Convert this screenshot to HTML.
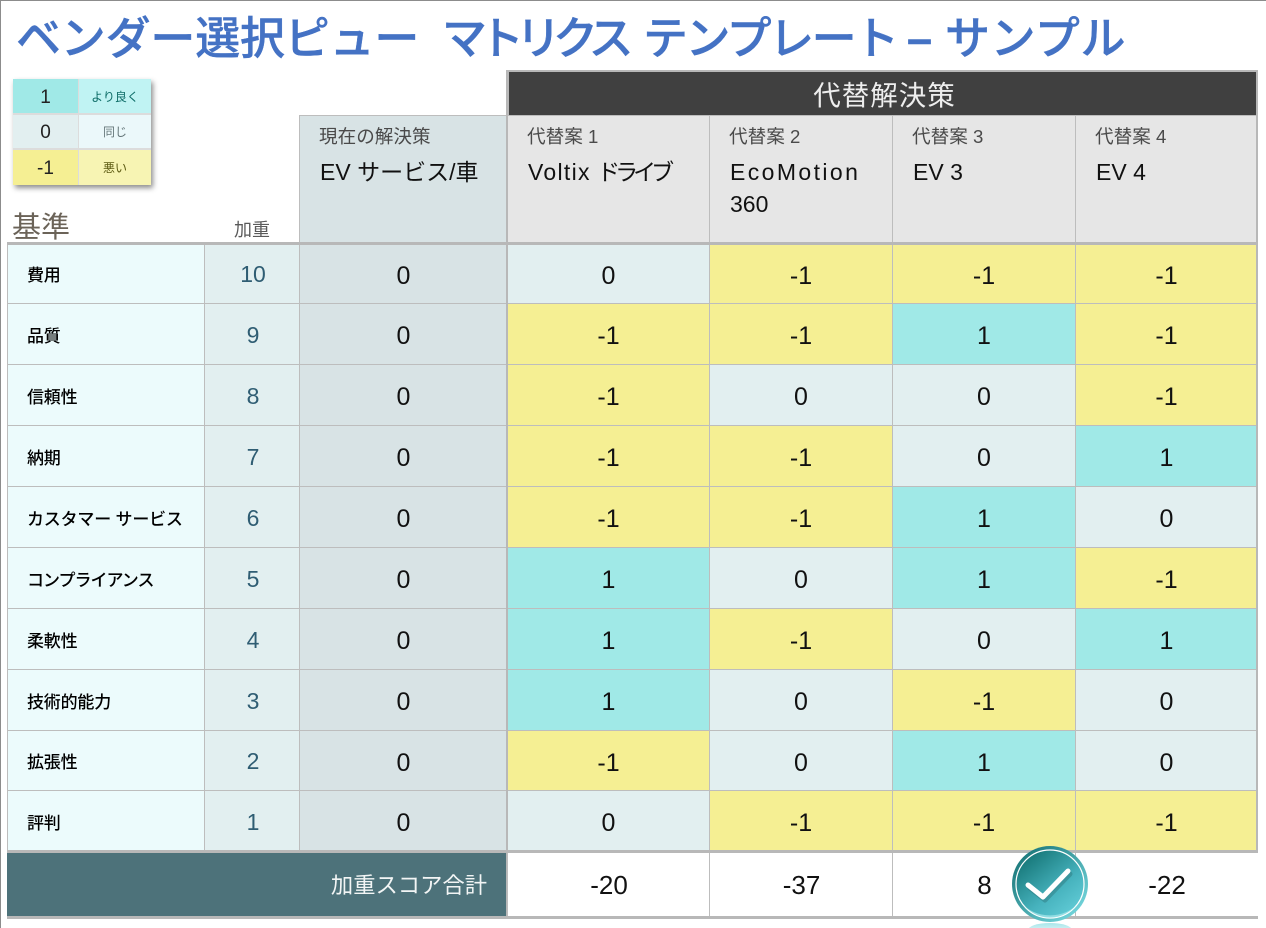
<!DOCTYPE html>
<html lang="ja">
<head>
<meta charset="utf-8">
<title>ベンダー選択ピュー マトリクス テンプレート</title>
<style>
html,body{margin:0;padding:0;background:#fff;}
body{width:1266px;height:928px;overflow:hidden;position:relative;font-family:"Liberation Sans","Noto Sans CJK JP",sans-serif;}
#stage{position:absolute;left:0;top:0;width:1266px;height:928px;overflow:hidden;}
.a{position:absolute;box-sizing:border-box;white-space:nowrap;}
.c{display:flex;align-items:center;justify-content:center;}
.t{position:absolute;top:11px;font-size:45px;line-height:56px;font-weight:500;color:#4472c4;-webkit-text-stroke:.4px #4472c4;white-space:nowrap;}
</style>
</head>
<body>
<div id="stage">
  <div class="a" style="left:0;top:0;width:1266px;height:1px;background:#8c8c8c"></div>
  <div class="a" style="left:0;top:0;width:1px;height:928px;background:#8c8c8c"></div>
  <div>
    <span class="t" style="left:16px;letter-spacing:-.2px">ベンダー選択ピュー</span>
    <span class="t" style="left:442px;letter-spacing:-8px">マトリクス</span>
    <span class="t" style="left:643px;letter-spacing:-2.5px">テンプレート</span>
    <span class="t" style="left:907px;font-weight:700">–</span>
    <span class="t" style="left:945px;letter-spacing:.6px">サンプル</span>
  </div>

  <div class="a" style="left:13px;top:79px;width:138px;height:106px;box-shadow:2px 3px 5px rgba(0,0,0,.45);background:#dcdcdc">
    <div class="a c" style="left:0;top:0;width:65px;height:34px;background:#a0e9e7;font-size:19px;color:#222;padding-top:3px">1</div>
    <div class="a c" style="left:66px;top:0;width:72px;height:34px;background:#c0f3f3;font-size:12px;color:#0e6d68">より良く</div>
    <div class="a c" style="left:0;top:36px;width:65px;height:33px;background:#e2eff0;font-size:19px;color:#222;padding-top:3px">0</div>
    <div class="a c" style="left:66px;top:36px;width:72px;height:33px;background:#ebf8fa;font-size:12px;color:#66777a">同じ</div>
    <div class="a c" style="left:0;top:71px;width:65px;height:35px;background:#f5ef93;font-size:19px;color:#222;padding-top:3px">-1</div>
    <div class="a c" style="left:66px;top:71px;width:72px;height:35px;background:#f7f4b3;font-size:12px;color:#5c5a12">悪い</div>
  </div>

  <div class="a" style="left:12px;top:209px;font-size:29px;line-height:38px;color:#6b6358">基準</div>
  <div class="a" style="left:234px;top:218px;font-size:18px;line-height:24px;color:#5a5a5a">加重</div>

  <div class="a" style="left:299px;top:115px;width:208px;height:128px;background:#d8e3e5;border:1px solid #bdbdbd;border-bottom:0"></div>
  <div class="a" style="left:319px;top:124px;font-size:18.6px;line-height:25px;color:#4a4a4a">現在の解決策</div>
  <div class="a" style="left:320px;top:157px;font-size:23px;line-height:31px;color:#111">EV サービス/車</div>

  <div class="a c" style="left:507px;top:70px;width:751px;height:46px;background:#404040;border:2px solid #b8b8b8;border-bottom:1px solid #b8b8b8;color:#eee;font-size:27.5px;padding-left:4px;padding-bottom:2px;letter-spacing:1px">代替解決策</div>
</div>

<script>
const criteria = ["費用","品質","信頼性","納期","カスタマー サービス","コンプライアンス","柔軟性","技術的能力","拡張性","評判"];
const weights = [10,9,8,7,6,5,4,3,2,1];
const currentScores = [0,0,0,0,0,0,0,0,0,0];
const alternativeLabels = ["代替案 1","代替案 2","代替案 3","代替案 4"];
const alternativeNames = [["Voltix ドライブ"],["EcoMotion","360"],["EV 3"],["EV 4"]];
const alt1Scores = [0,-1,-1,-1,-1,1,1,1,-1,0];
const alt2Scores = [-1,-1,0,-1,-1,0,-1,0,0,-1];
const alt3Scores = [-1,1,0,0,1,1,0,-1,1,-1];
const alt4Scores = [-1,-1,-1,1,0,-1,1,0,0,-1];
const totalLabel = "加重スコア合計";

const alternatives = [alt1Scores, alt2Scores, alt3Scores, alt4Scores];
const stage = document.getElementById('stage');
const colEdges = [7,204,299,507,709,892,1075,1257];
const rowEdges = [243,303,364,425,486,547,608,669,730,790,851];
const ratingFill = v => v > 0 ? '#a0e9e7' : v < 0 ? '#f5ef93' : '#e2eff0';

function box(left, top, width, height, css, text) {
  const el = document.createElement('div');
  el.className = 'a';
  el.style.cssText = `left:${left}px;top:${top}px;width:${width}px;height:${height}px;${css}`;
  if (text !== undefined) el.textContent = text;
  stage.appendChild(el);
  return el;
}

function styleName(el, text) {
  el.textContent = '';
  text.split(/([A-Za-z]{6,}|[ァ-ヶー]+)/).forEach(run => {
    if (!run) return;
    const s = document.createElement('span');
    s.textContent = run;
    if (/^[A-Za-z]{6,}$/.test(run)) s.style.letterSpacing = run.length > 6 ? '2.4px' : '1.3px';
    if (/^[ァ-ヶー]+$/.test(run)) s.style.letterSpacing = '-5px';
    el.appendChild(s);
  });
}

const line = '#bdbdbd';
const heavy = '#b8b8b8';

alternativeLabels.forEach((label, i) => {
  const x = colEdges[i + 3], w = colEdges[i + 4] - x;
  const head = box(x, 115, w + 1, 128, `background:#e6e6e6;border:1px solid ${line};border-bottom:0`);
  
  
  const lab = box(x + 20, 124, w - 20, 25, 'font-size:18.6px;line-height:25px;color:#4a4a4a', label);
  
  
  alternativeNames[i].forEach((t, k) => {
    const nm = box(x + 21, 157 + k * 32, w - 21, 31, 'font-size:23px;line-height:31px;color:#111');
    styleName(nm, t);
    
    
  });
});

criteria.forEach((name, r) => {
  const y = rowEdges[r], h = rowEdges[r + 1] - y;
  const kanaOnly = /^[ァ-ヶー]+$/.test(name);
  const cr = box(7, y, 198, h + 1, `background:#ecfbfc;border:1px solid ${line};padding-left:19px;display:flex;align-items:center;font-size:17px;font-weight:500;color:#000;letter-spacing:${kanaOnly ? '-1px' : '-.2px'}`, name);
  
  
  const wt = box(204, y, 96, h + 1, `background:#e2eff0;border:1px solid ${line};font-size:23px;color:#2f5d73;padding-top:2px;padding-left:2px`, String(weights[r]));
  wt.classList.add('c');
  
  
  const cu = box(299, y, 209, h + 1, `background:#d8e3e5;border:1px solid ${line};font-size:25px;color:#111;padding-top:5px`, String(currentScores[r]));
  cu.classList.add('c');
  
  
  alternatives.forEach((series, c) => {
    const x = colEdges[c + 3], w = colEdges[c + 4] - x;
    const v = series[r];
    const cell = box(x, y, w + 1, h + 1, `background:${ratingFill(v)};border:1px solid ${line};font-size:25px;color:#111;padding-top:5px`, String(v));
    cell.classList.add('c');
    
    
  });
});

const topRule = box(7, 242, 1251, 3, `background:${heavy}`);


const leftRule = box(506, 70, 2, 848, `background:${heavy}`);


const rightRule = box(1256, 70, 2, 848, `background:${heavy}`);



const totalBar = box(7, 852, 499, 64, 'background:#4d727a;color:#f2f5f5;font-size:22.3px;display:flex;align-items:center;justify-content:flex-end;padding-right:19px', totalLabel);



alternatives.forEach((series, c) => {
  const x = colEdges[c + 3], w = colEdges[c + 4] - x;
  const total = series.reduce((sum, v, r) => sum + v * weights[r], 0);
  const cell = box(x, 852, w + 1, 64, `background:#fff;border-left:1px solid ${line};font-size:26px;color:#111;padding-top:3px`, String(total));
  cell.classList.add('c');
  
  
});

const r1 = box(7, 850, 1251, 3, `background:${heavy}`);


const r2 = box(7, 916, 1251, 3, `background:${heavy}`);



const NS = 'http://www.w3.org/2000/svg';
const badge = document.createElementNS(NS, 'svg');


badge.setAttribute('width', '84');
badge.setAttribute('height', '90');
badge.setAttribute('viewBox', '0 0 84 90');
badge.style.cssText = 'position:absolute;left:1008px;top:842px';
badge.innerHTML = `
<defs>
<linearGradient id="rim" x1="0" y1="0" x2="1" y2="1"><stop offset="0" stop-color="#0e6a6c"/><stop offset="1" stop-color="#7fe3ea"/></linearGradient>
<linearGradient id="face" x1="0.1" y1="0" x2="0.9" y2="1"><stop offset="0" stop-color="#0f6e6e"/><stop offset="0.6" stop-color="#46b2bd"/><stop offset="1" stop-color="#66d0db"/></linearGradient>
<linearGradient id="refl" x1="0" y1="0" x2="0" y2="1"><stop offset="0" stop-color="#a8e6ea"/><stop offset="1" stop-color="#ffffff"/></linearGradient>
</defs>
<ellipse cx="42" cy="88" rx="22" ry="7" fill="url(#refl)"/>
<circle cx="42" cy="42" r="38" fill="url(#rim)"/>
<circle cx="42" cy="42" r="34" fill="url(#face)" stroke="#ffffff" stroke-width="1.2"/>
<path d="M14 61 A34 34 0 0 0 70 61 A32 24 0 0 1 14 61Z" fill="#a5e5ea" opacity=".75"/>
<path d="M20 43 L35 55 L60 29" fill="none" stroke="#2a6d73" stroke-opacity=".4" stroke-width="5" stroke-linecap="round" stroke-linejoin="round" transform="translate(2 3)"/>
<path d="M20 43 L35 55 L60 29" fill="none" stroke="#ffffff" stroke-width="5" stroke-linecap="round" stroke-linejoin="round"/>`;
stage.appendChild(badge);
</script>
</body>
</html>
